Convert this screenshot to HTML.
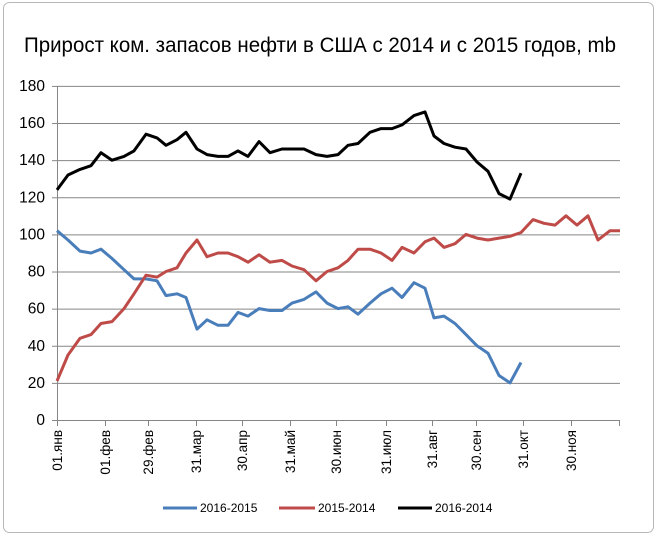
<!DOCTYPE html>
<html><head><meta charset="utf-8"><style>
html,body{margin:0;padding:0;background:#fff;}
svg{display:block;font-family:"Liberation Sans",sans-serif;}
</style></head><body>
<svg id="s" width="659" height="537" viewBox="0 0 659 537" xmlns="http://www.w3.org/2000/svg">
<rect x="0" y="0" width="659" height="537" fill="#fff"/>
<rect x="3.5" y="2.5" width="650" height="530" rx="6" fill="#fff" stroke="#b8b8b8"/>
<text x="320" y="52" font-size="21" text-anchor="middle" fill="#000" textLength="592" lengthAdjust="spacingAndGlyphs">Прирост ком. запасов нефти в США с 2014 и с 2015 годов, mb</text>
<g id="grid" stroke="#868686" stroke-width="1"></g>
<g id="lab" font-size="15.5" fill="#000"></g>
<g id="ser" fill="none" stroke-width="3" stroke-linejoin="round"></g>
<g font-size="12" fill="#000">
<line x1="163" y1="508" x2="197" y2="508" stroke="#4a7ebb" stroke-width="3"/><text x="200" y="512">2016-2015</text>
<line x1="279" y1="508" x2="315" y2="508" stroke="#be4b48" stroke-width="3"/><text x="318" y="512">2015-2014</text>
<line x1="398" y1="508" x2="432" y2="508" stroke="#000" stroke-width="3"/><text x="435" y="512">2016-2014</text>
</g>
</svg>
<script>
var NS="http://www.w3.org/2000/svg";
function el(p,t,a,txt){var e=document.createElementNS(NS,t);for(var k in a)e.setAttribute(k,a[k]);if(txt)e.textContent=txt;document.getElementById(p).appendChild(e);}
function Y(v){return 420-v*1.856;}
for(var v=0;v<=180;v+=20){var y=Y(v)+0.5;el("grid","line",{x1:57,x2:620,y1:y,y2:y});el("grid","line",{x1:52,x2:57,y1:y,y2:y});el("lab","text",{x:45,y:Y(v)+5,"text-anchor":"end"},""+v);}
el("grid","line",{x1:57.5,x2:57.5,y1:Y(180),y2:Y(0)});
var tx=[57,105,148,196,242,290,336,386,432,476,523,571,619];
var tl=["01.янв","01.фев","29.фев","31.мар","30.апр","31.май","30.июн","31.июл","31.авг","30.сен","31.окт","30.ноя"];
tx.forEach(function(x,i){el("grid","line",{x1:x+.5,x2:x+.5,y1:420,y2:426});if(tl[i])el("lab","text",{transform:"translate("+(x+5)+",430) rotate(-90)","text-anchor":"end","font-size":"13.5"},tl[i]);});
var xs=[57,68,80,91,101,112,124,134,146,157,166,177,186,197,207,218,228,238,248,259,270,282,292,304,316,327,338,348,358,370,381,392,402,414,425,434,444,455,466,477,488,499,510,521,533,544,555,566,577,588,598,610,620];
var black=[124,132,135,137,144,140,142,145,154,152,148,151,155,146,143,142,142,145,142,150,144,146,146,146,143,142,143,148,149,155,157,157,159,164,166,153,149,147,146,139,134,122,119,133];
var blue=[102,97,91,90,92,87,81,76,76,75,67,68,66,49,54,51,51,58,56,60,59,59,63,65,69,63,60,61,57,63,68,71,66,74,71,55,56,52,46,40,36,24,20,31];
var red=[21,35,44,46,52,53,60,68,78,77,80,82,90,97,88,90,90,88,85,89,85,86,83,81,75,80,82,86,92,92,90,86,93,90,96,98,93,95,100,98,97,98,99,101,108,106,105,110,105,110,97,102,102];
function pl(d,c){el("ser","polyline",{stroke:c,points:d.map(function(v,i){return xs[i]+","+Y(v).toFixed(1);}).join(" ")});}
pl(blue,"#4a7ebb");pl(red,"#be4b48");pl(black,"#000");
</script>
</body></html>
